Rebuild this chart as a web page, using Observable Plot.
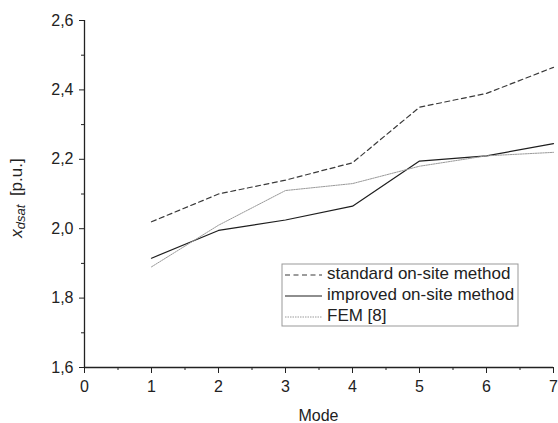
<!DOCTYPE html>
<html>
<head>
<meta charset="utf-8">
<script src="https://cdn.jsdelivr.net/npm/d3@7"></script>
<script src="https://cdn.jsdelivr.net/npm/@observablehq/plot@0.6"></script>
<style>
  html, body { margin: 0; padding: 0; background: #fff; }
  #chart svg { display: block; font-family: "Liberation Sans", Arial, sans-serif; }
</style>
</head>
<body>
<div id="chart"></div>
<script>
const modes = [1, 2, 3, 4, 5, 6, 7];
const standardOnSite = [2.02, 2.10, 2.14, 2.19, 2.35, 2.39, 2.465];
const improvedOnSite = [1.915, 1.995, 2.025, 2.065, 2.195, 2.21, 2.245];
const fem = [1.89, 2.01, 2.11, 2.13, 2.18, 2.21, 2.22];
const seriesNames = ["standard on-site method", "improved on-site method", "FEM [8]"];
const xTicks = [0, 1, 2, 3, 4, 5, 6, 7];
const xMinorTicks = [0.5, 1.5, 2.5, 3.5, 4.5, 5.5, 6.5];
const yTicks = [1.6, 1.8, 2.0, 2.2, 2.4, 2.6];
const yMinorTicks = [1.7, 1.9, 2.1, 2.3, 2.5];

const styles = [
  {stroke: "#3a3a3a", strokeWidth: 1.2, strokeDasharray: "5,3.5"},
  {stroke: "#1e1e1e", strokeWidth: 1.2, strokeDasharray: null},
  {stroke: "#9a9a9a", strokeWidth: 1, strokeDasharray: "1.5,1"}
];
const seriesValues = [standardOnSite, improvedOnSite, fem];
const rows = seriesValues.flatMap((vals, s) => modes.map((m, i) => ({mode: m, value: vals[i], s})));

const fmt = d => d.toFixed(1).replace(".", ",");

const plot = Plot.plot({
  width: 558,
  height: 423,
  marginLeft: 84,
  marginRight: 5,
  marginTop: 20,
  marginBottom: 56,
  style: {fontSize: "16px", fontFamily: "'Liberation Sans', Arial, sans-serif", color: "#222", background: "#fff"},
  x: {domain: [0, 7]},
  y: {domain: [1.6, 2.6]},
  marks: [
    Plot.axisX({ticks: xTicks, tickSize: 6, tickPadding: 7, tickFormat: d => String(d), label: null, stroke: "#222"}),
    Plot.axisX({ticks: xMinorTicks, tickSize: 3, text: null, label: null, stroke: "#222"}),
    Plot.axisY({ticks: yTicks, tickSize: 5, tickPadding: 6, tickFormat: fmt, label: null, stroke: "#222"}),
    Plot.axisY({ticks: yMinorTicks, tickSize: 3, text: null, label: null, stroke: "#222"}),
    Plot.ruleX([0], {stroke: "#222", strokeWidth: 1.3}),
    Plot.ruleY([1.6], {stroke: "#222", strokeWidth: 1.3}),
    ...styles.map((st, s) => Plot.line(rows.filter(r => r.s === s), {
      x: "mode", y: "value", stroke: st.stroke, strokeWidth: st.strokeWidth,
      strokeDasharray: st.strokeDasharray
    }))
  ]
});

const svg = d3.select(plot);
// x-axis title
svg.append("text")
  .attr("x", (84 + 553) / 2).attr("y", 417)
  .attr("text-anchor", "middle").attr("dominant-baseline", "middle")
  .attr("font-size", 16).attr("fill", "#222")
  .text("Mode");
// y-axis title with italic subscript
const yt = svg.append("text")
  .attr("transform", `translate(18, 198) rotate(-90)`)
  .attr("text-anchor", "middle").attr("dominant-baseline", "middle")
  .attr("font-size", 17).attr("fill", "#222");
yt.append("tspan").attr("font-style", "italic").text("x");
yt.append("tspan").attr("font-style", "italic").attr("font-size", 13).attr("dy", 4).text("dsat");
yt.append("tspan").attr("dy", -4).text("\u2002[p.u.]");

// legend
const lg = svg.append("g");
lg.append("rect").attr("x", 282).attr("y", 264).attr("width", 236).attr("height", 62)
  .attr("fill", "#fff").attr("stroke", "#999").attr("stroke-width", 1);
seriesNames.forEach((name, i) => {
  const y = 275 + i * 21;
  lg.append("line").attr("x1", 285).attr("x2", 322).attr("y1", y).attr("y2", y)
    .attr("stroke", styles[i].stroke).attr("stroke-width", styles[i].strokeWidth)
    .attr("stroke-dasharray", styles[i].strokeDasharray);
  lg.append("text").attr("x", 327).attr("y", y).attr("text-anchor", "start")
    .attr("dominant-baseline", "middle")
    .attr("font-size", 17).attr("fill", "#222").text(name);
});

document.getElementById("chart").appendChild(plot);
</script>
</body>
</html>
